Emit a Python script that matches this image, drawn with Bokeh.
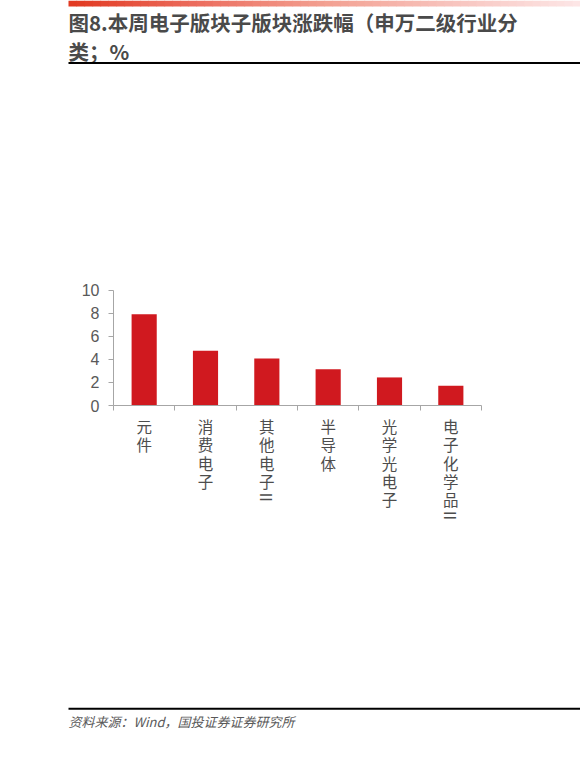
import math
from bokeh.plotting import figure
from bokeh.models import FixedTicker, LinearAxis, Range1d
from bokeh.core.properties import value
from bokeh.embed import file_html
from bokeh.resources import INLINE

# ---- data ----
categories = ["元件", "消费电子", "其他电子", "半导体", "光学光电子", "电子化学品"]
suffixes = ["", "", "Ⅱ", "", "", "Ⅱ"]
values = [7.9, 4.75, 4.07, 3.13, 2.43, 1.71]
y_ticks = [0, 2, 4, 6, 8, 10]
title_line1 = "图8.本周电子版块子版块涨跌幅（申万二级行业分"
title_line2 = "类；%"
source_text = "资料来源：Wind，国投证券证券研究所"

W, H = 580, 758
CJK = "Noto Sans CJK SC"
GREY = "#595959"
AXIS = "#a6a6a6"

# chart area placement on the page (pixels)
AX_L, AX_R, AX_B, AX_T = 113, 481, 405, 289.5
N = len(categories)
YMAX = 10
kx = (AX_R - AX_L) / N
ky = (AX_B - AX_T) / YMAX

p = figure(width=W, height=H,
           x_range=Range1d(-AX_L / kx, (W - AX_L) / kx),
           y_range=Range1d((AX_B - H) / ky, AX_B / ky),
           x_axis_type=None, y_axis_type=None,
           output_backend="svg", toolbar_location=None, min_border=0)
p.extra_x_ranges = {"px": Range1d(0, W)}
p.extra_y_ranges = {"px": Range1d(H, 0)}
p.outline_line_color = None
p.grid.visible = False
p.background_fill_color = "white"
p.border_fill_color = "white"

xs = [i + 0.5 for i in range(N)]
p.vbar(x=xs, top=values, width=0.41, bottom=0, fill_color="#d0191f", line_color=None)

# y axis
ya = LinearAxis(fixed_location=0, bounds=(0, YMAX), ticker=FixedTicker(ticks=y_ticks))
ya.major_tick_out = 5
ya.major_tick_in = 0
ya.minor_tick_out = 0
ya.minor_tick_in = 0
ya.axis_line_color = AXIS
ya.major_tick_line_color = AXIS
ya.major_label_text_font = "Liberation Sans"
ya.major_label_text_font_size = "16px"
ya.major_label_text_color = GREY
ya.major_label_standoff = 9
p.add_layout(ya, "left")

# x axis (ticks at category boundaries)
xa = LinearAxis(fixed_location=0, bounds=(0, N),
                ticker=FixedTicker(ticks=[], minor_ticks=list(range(N + 1))))
xa.major_tick_out = 0
xa.major_tick_in = 0
xa.minor_tick_out = 5
xa.minor_tick_in = 0
xa.minor_tick_line_color = AXIS
xa.axis_line_color = AXIS
p.add_layout(xa, "below")

# vertical category labels, one character per line
lx, ly, lt = [], [], []
rx, ry, rt = [], [], []
for x, c, s in zip(xs, categories, suffixes):
    for j, ch in enumerate(c):
        lx.append(x)
        ly.append(425.5 + 18.3 * j)
        lt.append(ch)
    if s:
        rx.append(x)
        ry.append(425.5 + 18.3 * len(c) - 2)
        rt.append(s)
p.text(x=lx, y=ly, text=lt, y_range_name="px", text_font=value(CJK),
       text_font_size="15.5px", text_color="#4d4d4d", text_align="center", text_baseline="middle")
p.text(x=rx, y=ry, text=rt, y_range_name="px", angle=-math.pi / 2, text_font=value(CJK),
       text_font_size="15.5px", text_color="#4d4d4d", text_align="center", text_baseline="middle")

# top gradient bar
stops = [(0.0, (226, 58, 34)), (0.25, (236, 110, 95)), (0.5, (243, 160, 145)),
         (0.75, (248, 196, 190)), (1.0, (253, 230, 230))]


def grad(t):
    for (t0, c0), (t1, c1) in zip(stops[:-1], stops[1:]):
        if t <= t1:
            f = (t - t0) / (t1 - t0)
            return "#%02x%02x%02x" % tuple(int(a + (b - a) * f) for a, b in zip(c0, c1))
    return "#%02x%02x%02x" % stops[-1][1]


nseg = 64
g0, g1 = 68, W
gl = [g0 + (g1 - g0) * i / nseg for i in range(nseg)]
gr = [g0 + (g1 - g0) * (i + 1) / nseg + 0.6 for i in range(nseg)]
gc = [grad(i / (nseg - 1)) for i in range(nseg)]
p.quad(left=gl, right=gr, top=[0] * nseg, bottom=[6] * nseg, fill_color=gc, line_color=None,
       x_range_name="px", y_range_name="px")

# title
p.text(x=[68, 68], y=[21, 50], text=[title_line1, title_line2], x_range_name="px", y_range_name="px",
       text_font=value(CJK), text_font_style="bold", text_font_size="20.5px",
       text_color="#4a4a4a", text_baseline="middle", text_align="left")

# rules
p.segment(x0=[68, 68], x1=[583, 583], y0=[62.5, 708.3], y1=[62.5, 708.3], line_color="black",
          line_width=2, x_range_name="px", y_range_name="px")

# source
p.text(x=[68], y=[721], text=[source_text], x_range_name="px", y_range_name="px",
       text_font=value(CJK), text_font_style="italic", text_font_size="13px",
       text_color=GREY, text_baseline="middle", text_align="left")

open("out.html", "w").write(file_html(p, INLINE))
